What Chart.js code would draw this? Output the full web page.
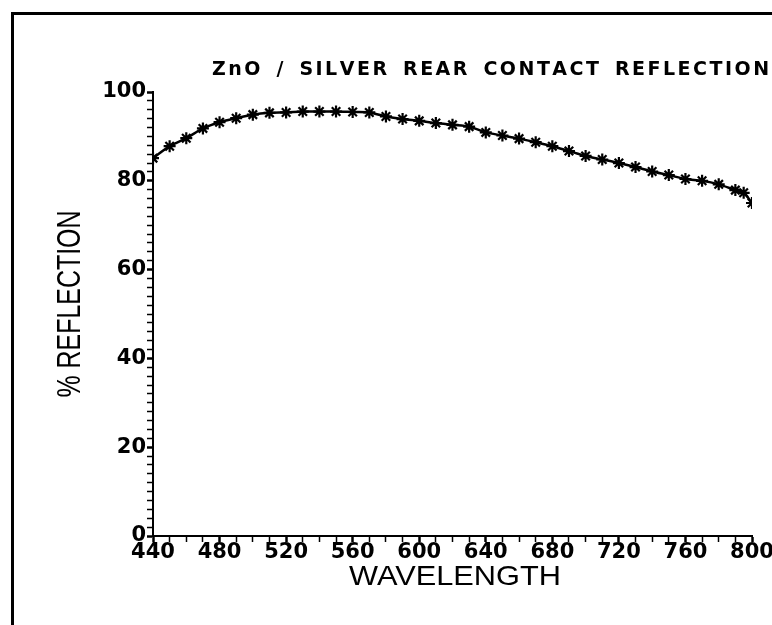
<!DOCTYPE html>
<html>
<head>
<meta charset="utf-8">
<script src="https://cdn.jsdelivr.net/npm/chart.js@4/dist/chart.umd.min.js"></script>
<style>
  html, body { margin: 0; padding: 0; background: #fff; }
  #wrap { width: 772px; height: 625px; position: relative; }
</style>
</head>
<body>
<div id="wrap"><canvas id="reflChart" width="772" height="625"></canvas></div>
<script>
'use strict';

// ── Data ─────────────────────────────────────────────────────────────────────
const wavelengths = [440, 450, 460, 470, 480, 490, 500, 510, 520, 530, 540, 550,
  560, 570, 580, 590, 600, 610, 620, 630, 640, 650, 660, 670, 680, 690, 700,
  710, 720, 730, 740, 750, 760, 770, 780, 790, 795, 800];
const reflection = [85.1, 87.8, 89.6, 91.8, 93.2, 94.1, 94.9, 95.3, 95.4, 95.6,
  95.6, 95.6, 95.5, 95.4, 94.5, 93.9, 93.5, 93.0, 92.6, 92.2, 90.9, 90.2, 89.5,
  88.7, 87.8, 86.7, 85.6, 84.8, 84.0, 83.1, 82.1, 81.3, 80.4, 80.0, 79.2, 77.9,
  77.3, 75.0];
const xTickLabels = [440, 480, 520, 560, 600, 640, 680, 720, 760, 800];
const yTickLabels = [0, 20, 40, 60, 80, 100];

const titleWords = ['ZnO', '/', 'SILVER', 'REAR', 'CONTACT', 'REFLECTION'];
const xTitle = 'WAVELENGTH';
const yTitle = '% REFLECTION';

const points = wavelengths.map((w, i) => ({ x: w, y: reflection[i] }));

// ── Helpers ──────────────────────────────────────────────────────────────────
// draw text centred on (cx, cy), squeezed/stretched to a given width
function drawFitted(ctx, text, cx, cy, width, font, angle) {
  ctx.save();
  ctx.font = font;
  ctx.fillStyle = '#000';
  ctx.textAlign = 'center';
  ctx.textBaseline = 'middle';
  const w = ctx.measureText(text).width;
  ctx.translate(cx, cy);
  if (angle) ctx.rotate(angle);
  ctx.scale(width / w, 1);
  ctx.fillText(text, 0, 0);
  ctx.restore();
}

// words laid out from x0 to x1, with a little letter spacing and wide word gaps
function drawTitle(ctx, words, x0, x1, cy, font, wordGap) {
  ctx.save();
  ctx.font = font;
  ctx.fillStyle = '#000';
  ctx.textAlign = 'left';
  ctx.textBaseline = 'middle';
  let plain = 0, inner = 0;
  words.forEach(wd => {
    plain += ctx.measureText(wd).width;
    inner += wd.length - 1;
  });
  const spacing = Math.max(0, (x1 - x0 - plain - wordGap * (words.length - 1)) / inner);
  let x = x0;
  words.forEach(wd => {
    for (const ch of wd) {
      ctx.fillText(ch, x, cy);
      x += ctx.measureText(ch).width + spacing;
    }
    x += wordGap - spacing;
  });
  ctx.restore();
}

// ── Frame + texts plugin ─────────────────────────────────────────────────────
const decorPlugin = {
  id: 'decor',
  beforeDraw(chart) {
    const ctx = chart.ctx;
    ctx.save();
    ctx.fillStyle = '#fff';
    ctx.fillRect(0, 0, chart.width, chart.height);
    ctx.strokeStyle = '#000';
    ctx.lineWidth = 3;
    ctx.beginPath();
    ctx.moveTo(12.5, 625);
    ctx.lineTo(12.5, 13.5);
    ctx.lineTo(772, 13.5);
    ctx.stroke();
    ctx.restore();
  },
  afterDraw(chart) {
    const ctx = chart.ctx;
    drawTitle(ctx, titleWords, 212, 765, 70, '600 19px "DejaVu Sans", sans-serif', 16);
    drawFitted(ctx, xTitle, 455, 577, 212, '28px "Liberation Sans", sans-serif', 0);
    drawFitted(ctx, yTitle, 71, 304, 187, '34px "Liberation Sans Narrow", "Liberation Sans", sans-serif', -Math.PI / 2);
  }
};

// ── Chart ────────────────────────────────────────────────────────────────────
const tickFont = { family: '"DejaVu Sans", sans-serif', size: 21, weight: '600' };

new Chart(document.getElementById('reflChart'), {
  type: 'line',
  data: {
    datasets: [{
      data: points,
      borderColor: '#000',
      borderWidth: 2.5,
      tension: 0.3,
      pointStyle: 'star',
      pointRadius: 6,
      pointBorderWidth: 2.2,
      pointBorderColor: '#000',
      pointBackgroundColor: '#000',
      fill: false
    }]
  },
  options: {
    responsive: false,
    animation: false,
    layout: { padding: { top: 92, right: 20, left: 0, bottom: 0 } },
    plugins: {
      legend: { display: false },
      tooltip: { enabled: false }
    },
    scales: {
      x: {
        type: 'linear',
        min: 440,
        max: 800,
        afterFit: s => { s.height = 89; },
        border: { color: '#000', width: 2 },
        grid: {
          drawOnChartArea: false,
          tickLength: 6,
          tickColor: '#000',
          tickWidth: c => (xTickLabels.includes(c.tick.value) ? 2.5 : 1.5)
        },
        ticks: {
          stepSize: 10,
          autoSkip: false,
          maxRotation: 0,
          padding: -2,
          color: '#000',
          font: tickFont,
          callback: v => (xTickLabels.includes(v) ? String(v) : '')
        }
      },
      y: {
        min: 0,
        max: 100,
        afterFit: s => { s.width = 153; },
        border: { color: '#000', width: 2 },
        grid: {
          drawOnChartArea: false,
          tickLength: 6,
          tickColor: '#000',
          tickWidth: c => (yTickLabels.includes(c.tick.value) ? 2.5 : 1.5)
        },
        ticks: {
          stepSize: 2,
          autoSkip: false,
          padding: 1,
          color: '#000',
          font: tickFont,
          callback: v => (yTickLabels.includes(v) ? String(v) : '')
        }
      }
    }
  },
  plugins: [decorPlugin]
});
</script>
</body>
</html>
